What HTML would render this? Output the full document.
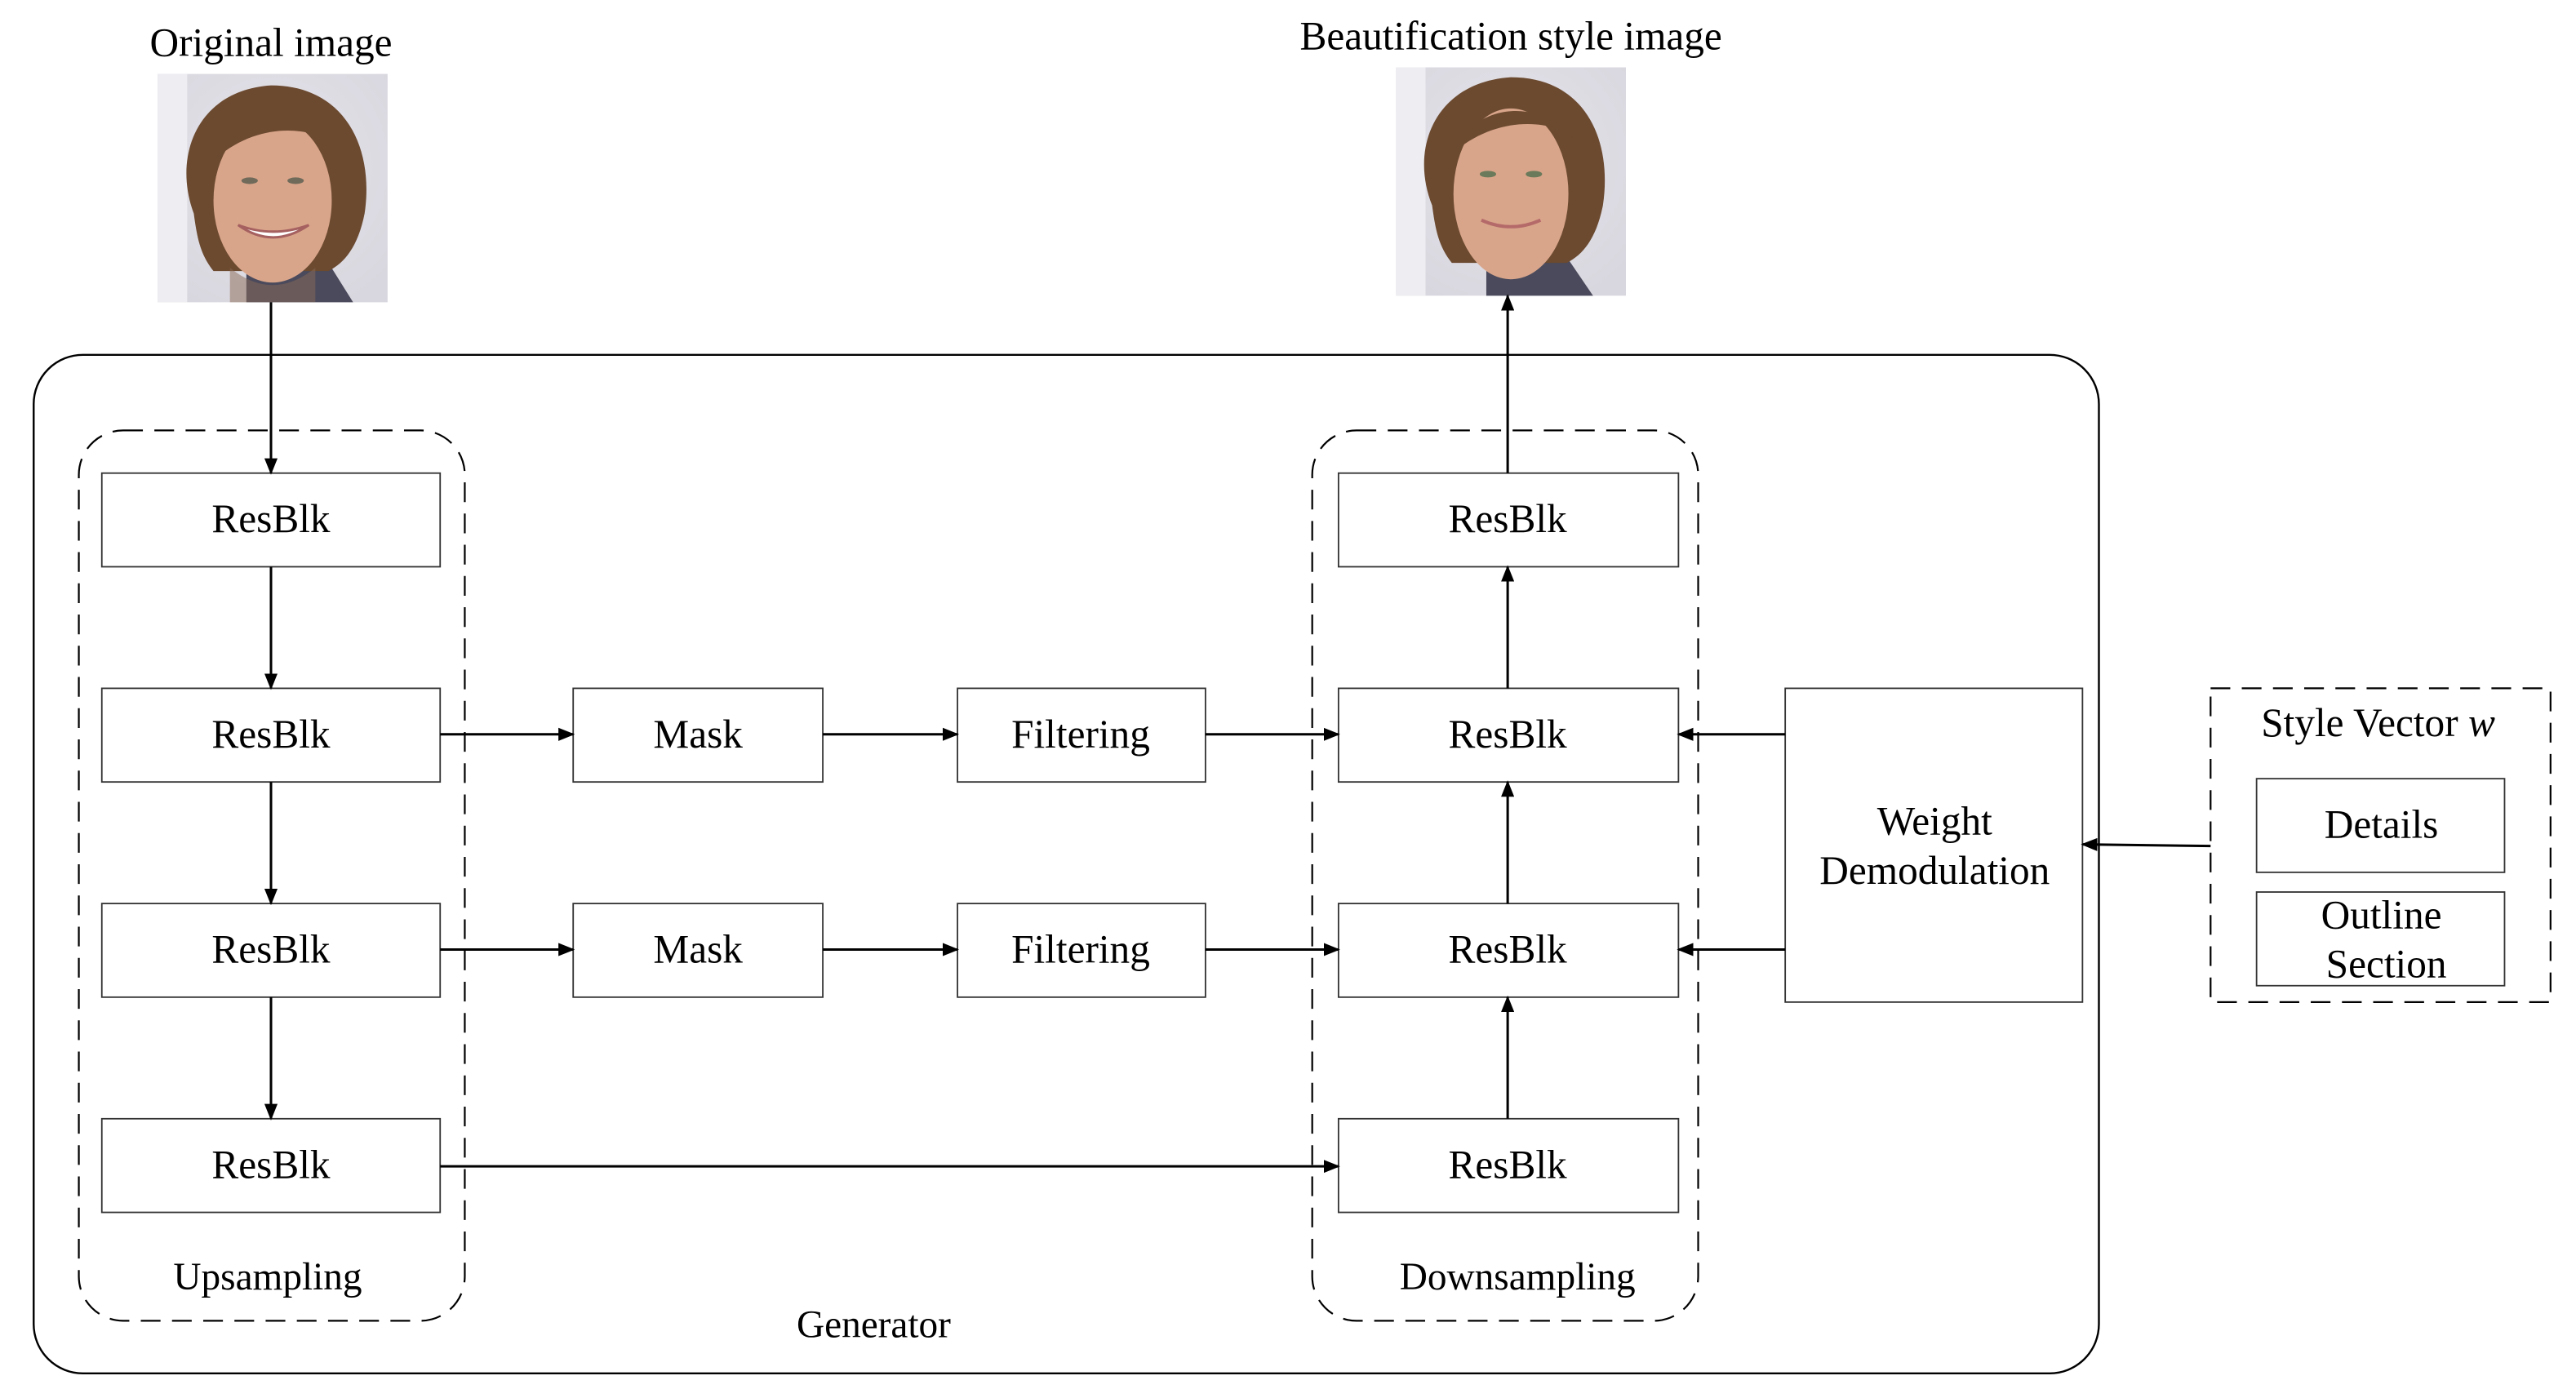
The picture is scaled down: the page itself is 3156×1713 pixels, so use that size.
<!DOCTYPE html>
<html><head><meta charset="utf-8"><style>
html,body{margin:0;padding:0;background:#fff;}
svg{display:block;}
text{font-family:"Liberation Serif",serif;fill:#000;}
</style></head><body>
<svg width="3156" height="1713" viewBox="0 0 1568.5 851" preserveAspectRatio="none" xmlns="http://www.w3.org/2000/svg">
<defs>
<marker id="ah" markerWidth="10" markerHeight="8" refX="9" refY="4" orient="auto" markerUnits="userSpaceOnUse">
<path d="M0,0 L10,4 L0,8 Z" fill="#000"/></marker>
<radialGradient id="bg1" cx="0.5" cy="0.4" r="0.7"><stop offset="0" stop-color="#e6e4ea"/><stop offset="1" stop-color="#d8d6de"/></radialGradient>
</defs>
<rect width="1570" height="852" fill="#fff"/>

<text x="165" y="34" font-size="24.5" text-anchor="middle">Original image</text>
<text x="920" y="30" font-size="24.5" text-anchor="middle">Beautification style image</text>

<g>
<rect x="96" y="45" width="140" height="139" fill="url(#bg1)"/>
<rect x="96" y="45" width="18" height="139" fill="#eeeef2"/>
<path d="M150,184 L150,160 L200,160 L215,184 Z" fill="#4a4a5c"/>
<path d="M118,130 C105,95 120,55 165,52 C210,52 228,90 222,130 C218,150 210,160 200,165 L130,165 C122,155 120,145 118,130 Z" fill="#6b4a30"/>
<ellipse cx="166" cy="122" rx="36" ry="50" fill="#d9a58a"/>
<path d="M132,96 C140,70 180,60 205,90 C195,78 160,72 132,96 Z" fill="#6b4a30"/>
<path d="M145,137 Q166,152 188,137 Q166,145 145,137 Z" fill="#fff" stroke="#a56060" stroke-width="1.5"/>
<path d="M140,163 Q166,184 192,163 L192,184 L140,184 Z" fill="#8a6a55" opacity="0.5"/>
<ellipse cx="152" cy="110" rx="5" ry="2" fill="#6f6a5a"/><ellipse cx="180" cy="110" rx="5" ry="2" fill="#6f6a5a"/>
</g>
<g>
<rect x="850" y="41" width="140" height="139" fill="url(#bg1)"/>
<rect x="850" y="41" width="18" height="139" fill="#eeeef2"/>
<path d="M905,180 L905,158 L955,158 L970,180 Z" fill="#4a4a5c"/>
<path d="M872,125 C858,90 874,50 920,47 C965,47 982,85 976,125 C972,145 964,155 954,160 L884,160 C876,150 874,140 872,125 Z" fill="#6b4a30"/>
<ellipse cx="920" cy="118" rx="35" ry="52" fill="#d9a58a"/>
<path d="M886,92 C895,66 935,56 960,86 C950,74 915,68 886,92 Z" fill="#6b4a30"/>
<path d="M902,134 Q920,142 938,134" fill="none" stroke="#b56a6a" stroke-width="2"/>
<ellipse cx="906" cy="106" rx="5" ry="2" fill="#6a7a5a"/><ellipse cx="934" cy="106" rx="5" ry="2" fill="#6a7a5a"/>
</g>

<rect x="20.5" y="216" width="1257.5" height="620" rx="30" ry="30" fill="none" stroke="#000" stroke-width="1.2"/>
<text x="532" y="814" font-size="23.5" text-anchor="middle">Generator</text>

<g fill="none" stroke="#000" stroke-width="1.1" stroke-dasharray="12,7">
<rect x="48" y="262" width="235" height="542" rx="27" ry="27"/>
<rect x="799" y="262" width="235" height="542" rx="27" ry="27"/>
<rect x="1346" y="419" width="207" height="191"/>
</g>
<text x="163" y="785" font-size="23.5" text-anchor="middle">Upsampling</text>
<text x="924" y="785" font-size="23.5" text-anchor="middle">Downsampling</text>

<g fill="#fff" stroke="#333" stroke-width="0.9">
<rect x="62" y="288" width="206" height="57"/>
<rect x="62" y="419" width="206" height="57"/>
<rect x="62" y="550" width="206" height="57"/>
<rect x="62" y="681" width="206" height="57"/>
<rect x="815" y="288" width="207" height="57"/>
<rect x="815" y="419" width="207" height="57"/>
<rect x="815" y="550" width="207" height="57"/>
<rect x="815" y="681" width="207" height="57"/>
<rect x="349" y="419" width="152" height="57"/>
<rect x="349" y="550" width="152" height="57"/>
<rect x="583" y="419" width="151" height="57"/>
<rect x="583" y="550" width="151" height="57"/>
<rect x="1087" y="419" width="181" height="191"/>
<rect x="1374" y="474" width="151" height="57"/>
<rect x="1374" y="543" width="151" height="57"/>
</g>
<g font-size="24.5" text-anchor="middle">
<text x="165" y="324">ResBlk</text>
<text x="165" y="455">ResBlk</text>
<text x="165" y="586">ResBlk</text>
<text x="165" y="717">ResBlk</text>
<text x="918" y="324">ResBlk</text>
<text x="918" y="455">ResBlk</text>
<text x="918" y="586">ResBlk</text>
<text x="918" y="717">ResBlk</text>
<text x="425" y="455">Mask</text>
<text x="425" y="586">Mask</text>
<text x="658" y="455">Filtering</text>
<text x="658" y="586">Filtering</text>
<text x="1178" y="508">Weight</text>
<text x="1178" y="538">Demodulation</text>
<text x="1450" y="510">Details</text>
<text x="1450" y="565">Outline</text>
<text x="1453" y="595">Section</text>
<text x="1448" y="448">Style Vector <tspan font-style="italic">w</tspan></text>
</g>

<g stroke="#000" stroke-width="1.5" fill="none" marker-end="url(#ah)">
<line x1="165" y1="184" x2="165" y2="288"/>
<line x1="165" y1="345" x2="165" y2="419"/>
<line x1="165" y1="476" x2="165" y2="550"/>
<line x1="165" y1="607" x2="165" y2="681"/>
<line x1="268" y1="447" x2="349" y2="447"/>
<line x1="501" y1="447" x2="583" y2="447"/>
<line x1="734" y1="447" x2="815" y2="447"/>
<line x1="268" y1="578" x2="349" y2="578"/>
<line x1="501" y1="578" x2="583" y2="578"/>
<line x1="734" y1="578" x2="815" y2="578"/>
<line x1="268" y1="710" x2="815" y2="710"/>
<line x1="918" y1="681" x2="918" y2="607"/>
<line x1="918" y1="550" x2="918" y2="476"/>
<line x1="918" y1="419" x2="918" y2="345"/>
<line x1="918" y1="288" x2="918" y2="180"/>
<line x1="1087" y1="447" x2="1022" y2="447"/>
<line x1="1087" y1="578" x2="1022" y2="578"/>
<line x1="1346" y1="515" x2="1268" y2="514"/>
</g>
</svg>
</body></html>
